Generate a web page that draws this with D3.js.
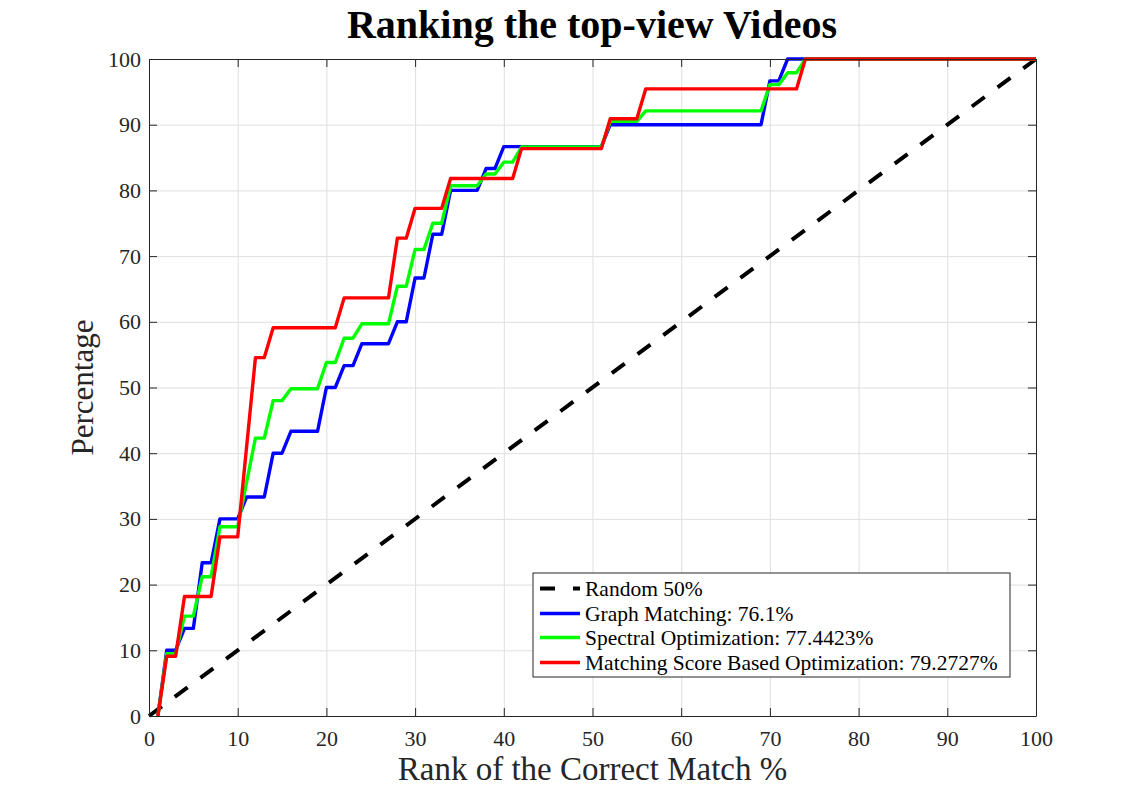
<!DOCTYPE html>
<html>
<head>
<meta charset="utf-8">
<script src="https://cdn.jsdelivr.net/npm/d3@7"></script>
<style>
  html, body { margin: 0; padding: 0; background: #fff; }
  svg { display: block; }
  text { font-family: "Liberation Serif", "Times New Roman", serif; }
</style>
</head>
<body>
<svg id="chart" width="1146" height="806"></svg>
<script>
// ranking curves (rank %, percentage)
const randomX = [0, 100];
const randomY = [0, 100];

const graphX = [1, 2, 3, 4, 5, 6, 7, 8, 10, 11, 13, 14, 15, 16, 19, 20, 21, 22, 23, 24, 27, 28, 29, 30, 31, 32, 33, 34, 37, 38, 39, 40, 51, 52, 69, 70, 71, 72, 100];
const graphY = [0, 10, 10, 13.33, 13.33, 23.33, 23.33, 30, 30, 33.33, 33.33, 40, 40, 43.33, 43.33, 50, 50, 53.33, 53.33, 56.67, 56.67, 60, 60, 66.67, 66.67, 73.33, 73.33, 80, 80, 83.33, 83.33, 86.67, 86.67, 90, 90, 96.67, 96.67, 100, 100];

const spectralX = [1, 2, 3, 4, 5, 6, 7, 8, 10, 12, 13, 14, 15, 16, 19, 20, 21, 22, 23, 24, 27, 28, 29, 30, 31, 32, 33, 34, 37, 38, 39, 40, 41, 42, 51, 52, 55, 56, 69, 70, 71, 72, 73, 74, 100];
const spectralY = [0, 9.5, 9.5, 15.2, 15.2, 21.2, 21.2, 28.8, 28.8, 42.3, 42.3, 48.0, 48.0, 49.8, 49.8, 53.8, 53.8, 57.5, 57.5, 59.7, 59.7, 65.4, 65.4, 71.0, 71.0, 75.0, 75.0, 80.7, 80.7, 82.5, 82.5, 84.3, 84.3, 86.6, 86.6, 90.5, 90.5, 92.1, 92.1, 96.1, 96.1, 97.9, 97.9, 100, 100];

const scoreX = [1, 2, 3, 4, 7, 8, 10, 12, 13, 14, 21, 22, 27, 28, 29, 30, 33, 34, 41, 42, 51, 52, 55, 56, 73, 74, 100];
const scoreY = [0, 9.09, 9.09, 18.18, 18.18, 27.27, 27.27, 54.55, 54.55, 59.09, 59.09, 63.64, 63.64, 72.73, 72.73, 77.27, 77.27, 81.82, 81.82, 86.36, 86.36, 90.91, 90.91, 95.45, 95.45, 100, 100];

const seriesNames = ["Random 50%", "Graph Matching: 76.1%", "Spectral Optimization: 77.4423%", "Matching Score Based Optimization: 79.2727%"];
const tickValues = [0, 10, 20, 30, 40, 50, 60, 70, 80, 90, 100];

const svg = d3.select("#chart");
const plotL = 149, plotR = 1036, plotT = 59, plotB = 716;
const W = plotR - plotL, H = plotB - plotT;
const axisColor = "#262626";

const x = d3.scaleLinear().domain([0, 100]).range([plotL, plotR]);
const y = d3.scaleLinear().domain([0, 100]).range([plotB, plotT]);

// grid
const grid = svg.append("g");
grid.append("g")
  .attr("transform", `translate(0,${plotB})`)
  .call(d3.axisBottom(x).tickValues(tickValues).tickSize(-H).tickFormat(""))
  .call(g => g.select(".domain").remove());
grid.append("g")
  .attr("transform", `translate(${plotL},0)`)
  .call(d3.axisLeft(y).tickValues(tickValues).tickSize(-W).tickFormat(""))
  .call(g => g.select(".domain").remove());
grid.selectAll("line").attr("stroke", "#dfdfdf").attr("stroke-width", 1);

// curves
const zip = (xs, ys) => xs.map((v, i) => [v, ys[i]]);
const line = d3.line().x(d => x(d[0])).y(d => y(d[1]));

const curves = [
  { data: zip(randomX, randomY), color: "#000000", width: 4, dash: "16,16" },
  { data: zip(graphX, graphY), color: "#0000ff", width: 3.4 },
  { data: zip(spectralX, spectralY), color: "#00ff00", width: 3.4 },
  { data: zip(scoreX, scoreY), color: "#ff0000", width: 3.4 },
];

const plot = svg.append("g");
curves.forEach(c => {
  plot.append("path")
    .datum(c.data)
    .attr("d", line)
    .attr("fill", "none")
    .attr("stroke", c.color)
    .attr("stroke-width", c.width)
    .attr("stroke-dasharray", c.dash || null)
    .attr("stroke-linejoin", "round");
});

// axes (ticks point inward, box on all four sides)
function styleAxis(g) {
  g.select(".domain").attr("stroke", axisColor).attr("stroke-width", 1);
  g.selectAll(".tick line").attr("stroke", axisColor);
  g.selectAll(".tick text").attr("fill", axisColor).attr("font-size", 22);
}

svg.append("g")
  .attr("transform", `translate(0,${plotB})`)
  .call(d3.axisBottom(x).tickValues(tickValues).tickSizeInner(-8).tickSizeOuter(0).tickPadding(14))
  .call(styleAxis)
  .call(g => g.selectAll(".tick text").attr("dy", "0.71em"));
svg.append("g")
  .attr("transform", `translate(0,${plotT})`)
  .call(d3.axisTop(x).tickValues(tickValues).tickSizeInner(-8).tickSizeOuter(0).tickFormat(""))
  .call(styleAxis);
svg.append("g")
  .attr("transform", `translate(${plotL},0)`)
  .call(d3.axisLeft(y).tickValues(tickValues).tickSizeInner(-8).tickSizeOuter(0).tickPadding(8))
  .call(styleAxis);
svg.append("g")
  .attr("transform", `translate(${plotR},0)`)
  .call(d3.axisRight(y).tickValues(tickValues).tickSizeInner(-8).tickSizeOuter(0).tickFormat(""))
  .call(styleAxis);

// title and labels
svg.append("text")
  .attr("x", 592).attr("y", 38)
  .attr("text-anchor", "middle")
  .attr("font-size", 40).attr("font-weight", "bold")
  .attr("fill", "#000")
  .text("Ranking the top-view Videos");

svg.append("text")
  .attr("x", (plotL + plotR) / 2).attr("y", 780)
  .attr("text-anchor", "middle")
  .attr("font-size", 33)
  .attr("fill", axisColor)
  .text("Rank of the Correct Match %");

svg.append("text")
  .attr("transform", `translate(93,${(plotT + plotB) / 2}) rotate(-90)`)
  .attr("text-anchor", "middle")
  .attr("font-size", 31)
  .attr("fill", axisColor)
  .text("Percentage");

// legend
const legend = svg.append("g").attr("transform", "translate(533,573)");
legend.append("rect")
  .attr("width", 477).attr("height", 104)
  .attr("fill", "#fff").attr("stroke", axisColor).attr("stroke-width", 1);

const rowY = [15.5, 40.5, 64.5, 89.5];
seriesNames.forEach((name, i) => {
  const c = curves[i];
  legend.append("line")
    .attr("x1", 7).attr("x2", 47)
    .attr("y1", rowY[i]).attr("y2", rowY[i])
    .attr("stroke", c.color)
    .attr("stroke-width", c.width)
    .attr("stroke-dasharray", c.dash ? "15,18" : null);
  legend.append("text")
    .attr("x", 52).attr("y", rowY[i] + 7)
    .attr("font-size", 21.5)
    .attr("fill", "#000")
    .text(name);
});
</script>
</body>
</html>
